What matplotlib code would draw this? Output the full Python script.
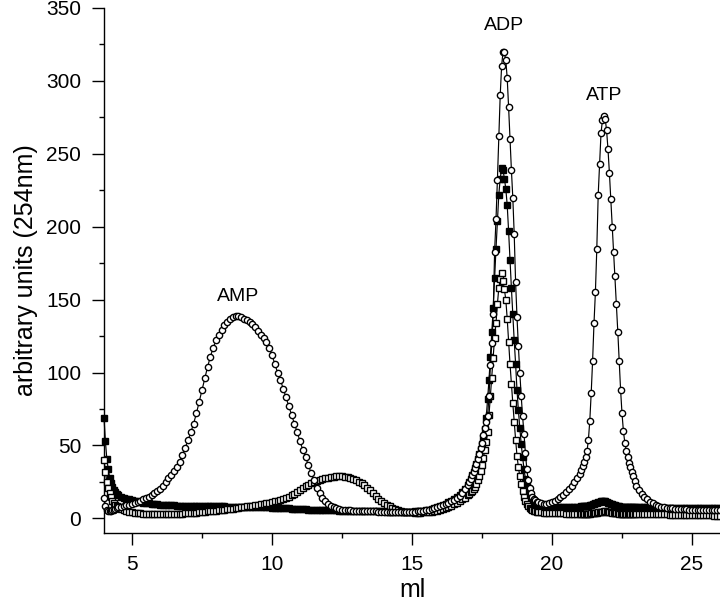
import numpy as np
import matplotlib
matplotlib.use("Agg")
import matplotlib.pyplot as plt
from matplotlib.ticker import MultipleLocator

plt.rcParams['font.family'] = ['Liberation Sans', 'DejaVu Sans']

# sampling positions (ml): fine steps around the steep parts
x_ml = np.concatenate([np.arange(400, 450, 5), np.arange(450, 1700, 10),
                       np.arange(1700, 1955, 5), np.arange(1960, 2100, 10),
                       np.arange(2100, 2305, 5), np.arange(2310, 2605, 10)]) / 100.0

# open circles (AMP / ADP / ATP peaks)
circles = [
    14, 8.5, 6, 5, 5, 5.2, 5.6, 6, 6.5, 7,
    7.5, 8, 8.5, 9, 9.5,
    10, 10.5, 11, 12, 13, 14, 15, 16, 17.5, 19,
    20.5, 22.5, 25, 27.5, 30, 32.5, 35, 39, 43.5, 48.5,
    53.5, 59, 65, 72, 80, 88, 96, 104, 111, 117,
    122, 126, 129.5, 132.5, 135, 137, 138, 138.5, 138.5, 138,
    137, 136, 134.5, 133, 131, 128.5, 126, 123.5, 121, 117,
    112, 106, 100, 95, 89, 83, 77, 71, 65, 59,
    53, 47, 42, 36.5, 31, 26, 21, 17.5, 14, 12,
    10, 8.5, 7.5, 6.8, 6.3, 6, 5.8, 5.6, 5.5, 5.4,
    5.3, 5.2, 5.1, 5, 5, 4.9, 4.8, 4.8, 4.7, 4.6,
    4.6, 4.5, 4.5, 4.4, 4.4, 4.4, 4.4, 4.4, 4.5, 4.5,
    4.6, 4.7, 4.9, 5.1, 5.4, 5.7, 6.1, 6.6, 7.1, 7.7,
    8.3, 9, 9.8, 10.7, 11.7, 12.8, 14, 15.5, 17.5, 20,
    23, 25, 27, 29.5, 32, 34.5, 37.5, 40.5, 44, 48,
    52, 57, 62, 66, 70, 84, 105, 120, 140, 183,
    205, 232, 262, 290, 310, 320, 320, 314, 302, 282,
    260, 239, 220, 195, 162, 138, 118, 100, 84, 70,
    58, 45, 34, 26, 21, 17.5, 15, 13.5, 12.5, 11.5,
    11,
    10.5, 10.2, 10.2, 10.6, 11.3, 12.2, 13.4, 14.8, 16.3, 18, 20, 22.3, 24.8, 27.5,
    30.5, 33, 36, 39, 42, 46, 54, 67, 86, 108,
    134, 155, 185, 222, 243, 264, 273, 276, 274, 266,
    253, 237, 219, 200, 183, 166, 147, 128, 108, 88,
    72, 60, 52, 46.5, 42, 38, 35, 32, 29, 25.5,
    22.5,
    19.5, 17, 15, 13, 11.5, 10.3, 9.3, 8.5, 8, 7.5,
    7.2, 7, 6.8, 6.6, 6.5, 6.4, 6.3, 6.2, 6.1, 6,
    6, 5.9, 5.9, 5.8, 5.8, 5.7, 5.7, 5.6, 5.6, 5.5,
]

# filled squares
filled_sq = [
    69, 53, 41, 34, 28, 24, 21.5, 19.5, 18, 16.8,
    16, 15, 14.2, 13.5, 13,
    12.5, 12, 11.6, 11.2, 10.9, 10.6, 10.3, 10, 9.8, 9.6,
    9.4, 9.3, 9.2, 9.1, 9, 8.9, 8.8, 8.8, 8.7, 8.7,
    8.6, 8.6, 8.5, 8.5, 8.5, 8.4, 8.4, 8.4, 8.3, 8.3,
    8.3, 8.2, 8.2, 8.2, 8.1, 8.1, 8.1, 8, 8, 8,
    8, 7.9, 7.9, 7.8, 7.8, 7.7, 7.7, 7.6, 7.5, 7.5,
    7.4, 7.3, 7.2, 7.1, 7, 6.9, 6.8, 6.7, 6.6, 6.5,
    6.4, 6.3, 6.2, 6.1, 6, 6, 5.9, 5.8, 5.8, 5.7,
    5.6, 5.6, 5.5, 5.5, 5.4, 5.4, 5.3, 5.3, 5.2, 5.2,
    5.1, 5.1, 5, 5, 5, 4.9, 4.9, 4.9, 4.8, 4.8,
    4.8, 4.7, 4.7, 4.7, 4.6, 4.6, 4.6, 4.6, 4.6, 4.6,
    4.7, 4.8, 4.9, 5.1, 5.3, 5.6, 6, 6.5, 7, 7.6,
    8.3, 9.1, 10, 11, 12.1, 13.3, 14.7, 16.3, 18.2, 20.5,
    23, 25, 27, 29.5, 32, 34.5, 37.5, 40.5, 44, 47.5,
    51, 55, 61, 69, 82, 95, 111, 128, 144, 165,
    185, 204, 222, 233, 240, 239, 233, 226, 215, 197,
    177, 158, 140, 122, 106, 88, 74, 62, 51, 42,
    34, 27, 22, 18, 15.5, 13.5, 12, 11, 10.2, 9.6,
    9.2,
    8.9, 8.6, 8.4, 8.3, 8.2, 8.1, 8.1, 8, 8, 8, 8, 8, 8, 8.1,
    8.1, 8.2, 8.3, 8.4, 8.5, 8.6, 8.8, 9, 9.3, 9.6,
    10, 10.4, 10.8, 11.2, 11.5, 11.7, 11.8, 11.8, 11.6, 11.3,
    10.9, 10.5, 10, 9.6, 9.2, 8.9, 8.6, 8.4, 8.2, 8.1,
    8, 8, 7.9, 7.9, 7.9, 7.8, 7.8, 7.8, 7.8, 7.7,
    7.7,
    7.7, 7.6, 7.6, 7.6, 7.5, 7.5, 7.5, 7.4, 7.4, 7.4,
    7.3, 7.3, 7.3, 7.2, 7.2, 7.2, 7.2, 7.1, 7.1, 7.1,
    7, 7, 7, 7, 6.9, 6.9, 6.9, 6.8, 6.8, 6.8,
]

# open squares
open_sq = [
    40, 32, 25, 21, 17.5, 14.5, 12.2, 10.5, 9.3, 8.3,
    7.5, 6.5, 5.8, 5.2, 4.7,
    4.3, 4, 3.7, 3.5, 3.3, 3.1, 3, 2.9, 2.8, 2.8,
    2.8, 2.8, 2.8, 2.9, 2.9, 3, 3.1, 3.2, 3.3, 3.4,
    3.5, 3.7, 3.8, 4, 4.2, 4.4, 4.6, 4.8, 5, 5.2,
    5.4, 5.6, 5.8, 6, 6.2, 6.4, 6.7, 7, 7.3, 7.6,
    7.9, 8.2, 8.5, 8.8, 9.1, 9.4, 9.7, 10, 10.4, 10.8,
    11.2, 11.6, 12.1, 12.6, 13.2, 14, 15, 16, 17, 18.2,
    19.5, 20.8, 22, 23.1, 24.1, 25, 25.8, 26.5, 27.1, 27.6,
    28, 28.3, 28.6, 28.8, 28.9, 28.8, 28.6, 28.2, 27.7, 27.1,
    26.3, 25.3, 24.1, 22.7, 21, 19.2, 17.3, 15.4, 13.6, 12,
    10.6, 9.3, 8.2, 7.2, 6.4, 5.7, 5.1, 4.7, 4.4, 4.2,
    4.1, 4, 4, 4, 4.1, 4.2, 4.4, 4.7, 5, 5.4,
    5.9, 6.5, 7.2, 8, 8.8, 9.7, 10.7, 11.8, 13, 14.3,
    15.8, 17, 18, 19, 20, 21.5, 23.5, 26, 29, 32.5,
    36.5, 41.5, 47, 52.5, 59, 71, 84, 96, 110, 124,
    134, 147, 158, 164, 168, 163, 157, 150, 137, 121,
    106, 92, 79, 66, 54, 43, 35, 29, 23.5, 18.5,
    15, 12, 9.8, 8.2, 7, 6.2, 5.6, 5.1, 4.8, 4.5,
    4.3,
    4.1, 3.9, 3.8, 3.7, 3.6, 3.5, 3.5, 3.4, 3.4, 3.3, 3.3, 3.3, 3.2, 3.2,
    3.2, 3.2, 3.2, 3.2, 3.2, 3.2, 3.3, 3.3, 3.4, 3.5,
    3.6, 3.8, 4, 4.2, 4.4, 4.6, 4.7, 4.8, 4.8, 4.7,
    4.6, 4.4, 4.2, 4, 3.8, 3.6, 3.5, 3.4, 3.3, 3.3,
    3.2, 3.2, 3.2, 3.1, 3.1, 3.1, 3.1, 3, 3, 3,
    3,
    3, 3, 2.9, 2.9, 2.9, 2.8, 2.8, 2.8, 2.7, 2.7,
    2.7, 2.6, 2.6, 2.6, 2.5, 2.5, 2.5, 2.4, 2.4, 2.4,
    2.3, 2.3, 2.3, 2.2, 2.2, 2.1, 2.1, 2.0, 1.9, 1.6,
]

peak_labels = ["AMP", "ADP", "ATP"]
peak_label_x = [8.8, 18.3, 21.85]
peak_label_y = [152, 338, 290]

x_ticks = [5, 10, 15, 20, 25]
y_ticks = [0, 50, 100, 150, 200, 250, 300, 350]

for name, arr in [("circles", circles), ("filled_sq", filled_sq), ("open_sq", open_sq)]:
    if len(arr) != len(x_ml):
        raise SystemExit(f"{name}: {len(arr)} vs {len(x_ml)}")

fig = plt.figure(figsize=(7.2, 6.04), dpi=100)
ax = fig.add_axes([104 / 720, (604 - 533) / 604, 616 / 720, 525 / 604])

common = dict(color='black', linewidth=0.85, clip_on=False, markeredgewidth=1.0)
ax.plot(x_ml, filled_sq, marker='s', markersize=4.0, markerfacecolor='black',
        markeredgecolor='black', zorder=2, **common)
ax.plot(x_ml, open_sq, marker='s', markersize=4.0, markerfacecolor='white',
        markeredgecolor='black', zorder=3, **common)
ax.plot(x_ml, circles, marker='o', markersize=4.5, markerfacecolor='white',
        markeredgecolor='black', zorder=4, **common)

for t, tx, ty in zip(peak_labels, peak_label_x, peak_label_y):
    ax.text(tx, ty, t, ha='center', va='center', fontsize=14)

ax.set_xlim(4, 26)
ax.set_ylim(-10, 350)
ax.set_xticks(x_ticks)
ax.set_yticks(y_ticks)
ax.xaxis.set_minor_locator(MultipleLocator(2.5))
ax.yaxis.set_minor_locator(MultipleLocator(25))
ax.tick_params(which='major', direction='out', length=8.5, width=1.0, labelsize=15)
ax.tick_params(which='minor', direction='out', length=3.6, width=1.0)
ax.tick_params(axis='x', which='major', pad=7)
ax.tick_params(axis='y', which='major', pad=8)
for s in ['top', 'right']:
    ax.spines[s].set_visible(False)
for s in ['left', 'bottom']:
    ax.spines[s].set_linewidth(1.0)
ax.spines['left'].set_bounds(-10, 350)

ax.set_xlabel('ml', fontsize=18, labelpad=3)
ax.set_ylabel('arbitrary units (254nm)', fontsize=18, labelpad=6)

fig.savefig('out.png', dpi=100)
